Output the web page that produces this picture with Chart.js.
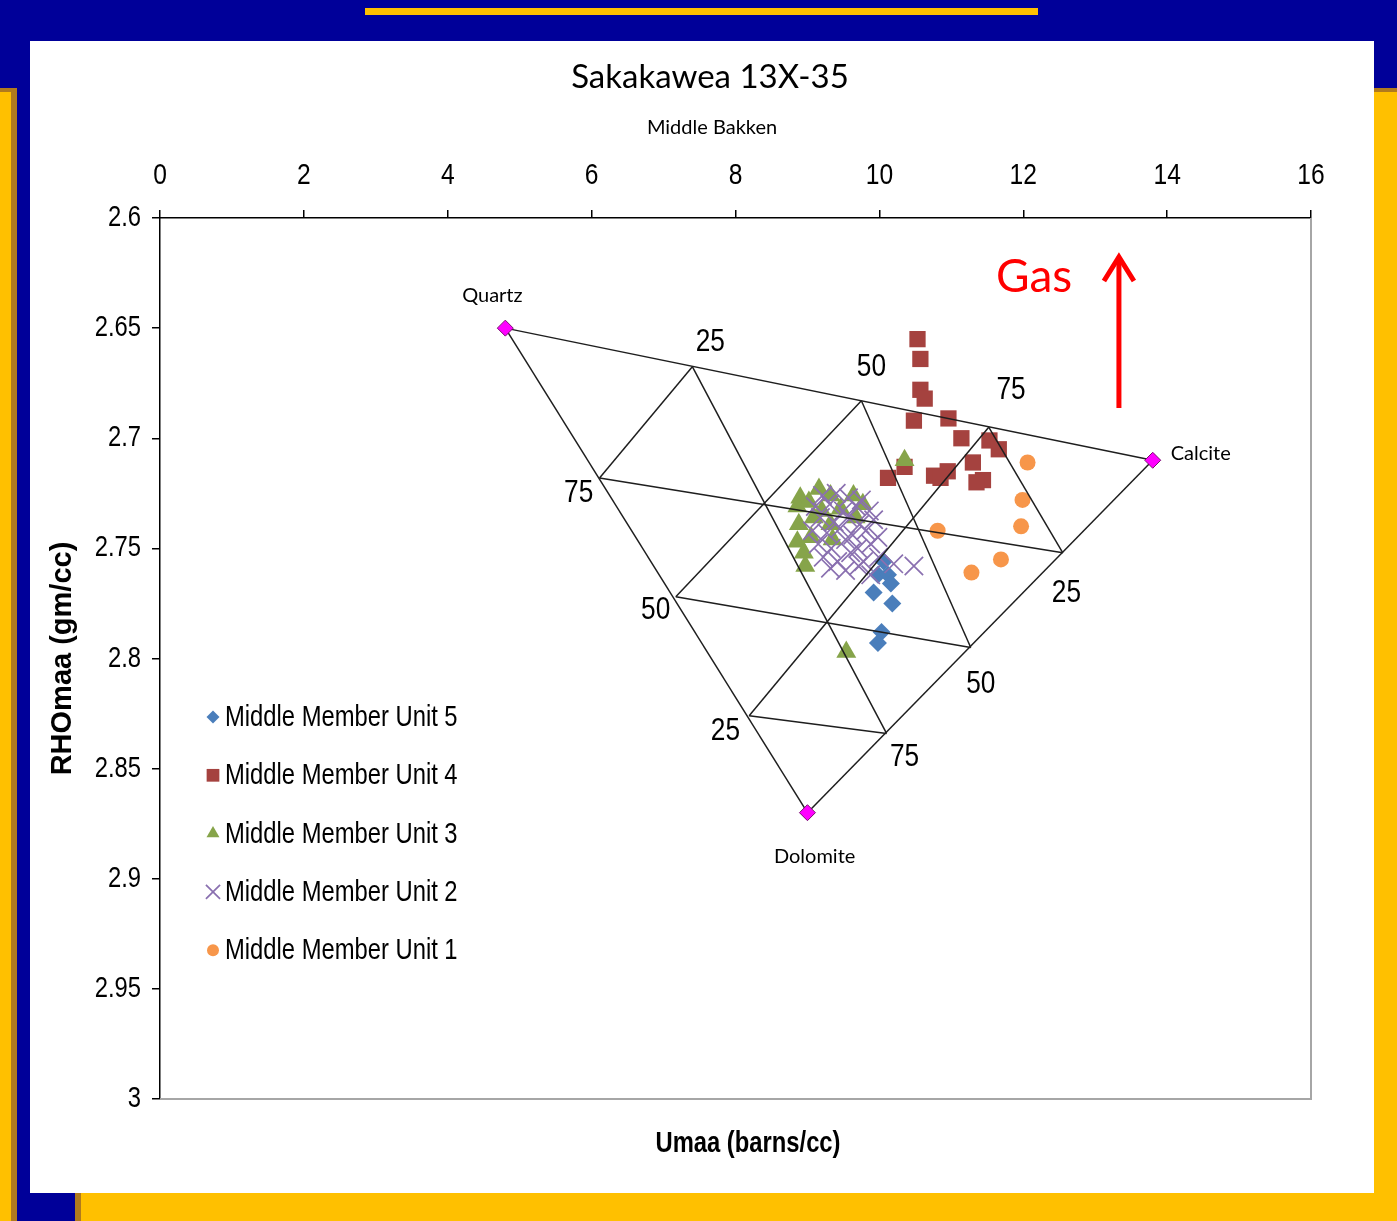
<!DOCTYPE html>
<html>
<head>
<meta charset="utf-8">
<title>Sakakawea 13X-35</title>
<script src="https://cdn.jsdelivr.net/npm/chart.js@4.4.1/dist/chart.umd.min.js"></script>
<style>
  html, body { margin: 0; padding: 0; }
  body { width: 1397px; height: 1221px; background: #000099; position: relative; overflow: hidden; }
  .gold-rule { position: absolute; left: 365px; top: 8px; width: 673px; height: 7px; background: #FFC000; }
  .band { position: absolute; background: #FFC000; box-sizing: border-box; }
  .band.left { left: 0; top: 88px; width: 17px; bottom: 0; border-top: 4px solid #B07A1E; border-right: 6px solid #B07A1E; }
  .band.right { left: 1374px; top: 88px; right: 0; bottom: 0; border-top: 4px solid #B07A1E; }
  .band.bottom { left: 75px; top: 1193px; right: 0; bottom: 0; border-left: 6px solid #B07A1E; }
  .panel { position: absolute; left: 30px; top: 41px; width: 1344px; height: 1152px; background: #fff; }
</style>
</head>
<body>
<div class="gold-rule"></div>
<div class="band left"></div>
<div class="band right"></div>
<div class="band bottom"></div>
<div class="panel"><canvas id="ternaryChart"></canvas></div>

<script>
// Middle Bakken samples, [Umaa (barns/cc), RHOmaa (gm/cc)]
const unit5 = [[10.06, 2.756], [9.98, 2.762], [10.12, 2.762], [10.16, 2.766], [9.92, 2.770],
               [10.18, 2.775], [10.03, 2.788], [9.98, 2.793]];
const unit4 = [[10.53, 2.655], [10.57, 2.664], [10.57, 2.678], [10.63, 2.682], [10.48, 2.692],
               [10.96, 2.691], [11.14, 2.700], [11.53, 2.701], [11.66, 2.705], [10.35, 2.713],
               [10.12, 2.718], [10.76, 2.717], [10.95, 2.715], [11.30, 2.711], [11.44, 2.719],
               [11.35, 2.720], [10.85, 2.718]];
const unit3 = [[10.35, 2.710], [9.16, 2.723], [8.90, 2.727], [8.86, 2.731], [9.02, 2.729],
               [9.09, 2.736], [8.86, 2.747], [8.95, 2.752], [8.97, 2.758], [9.32, 2.726],
               [9.46, 2.732], [9.32, 2.739], [9.35, 2.746], [9.64, 2.726], [9.77, 2.730],
               [9.67, 2.736], [8.88, 2.739], [9.05, 2.745], [9.20, 2.733], [9.54, 2.797]];
const unit2 = [[9.21, 2.726], [9.40, 2.725], [9.57, 2.727], [9.75, 2.728], [9.11, 2.731],
               [9.31, 2.730], [9.50, 2.733], [9.68, 2.731], [9.86, 2.733], [9.18, 2.736],
               [9.37, 2.738], [9.56, 2.736], [9.73, 2.739], [9.92, 2.737], [9.07, 2.742],
               [9.27, 2.743], [9.45, 2.741], [9.63, 2.744], [9.81, 2.742], [9.98, 2.745],
               [9.15, 2.748], [9.33, 2.750], [9.53, 2.746], [9.70, 2.750], [9.88, 2.748],
               [9.22, 2.754], [9.42, 2.756], [9.60, 2.752], [9.78, 2.756], [9.99, 2.754],
               [9.32, 2.759], [9.53, 2.760], [9.71, 2.758], [10.20, 2.757], [10.48, 2.758],
               [9.88, 2.762]];
const unit1 = [[12.06, 2.711], [11.99, 2.728], [11.97, 2.740], [10.81, 2.742], [11.69, 2.755],
               [11.28, 2.761]];

// mineral end points of the ternary
const minerals = ['Quartz', 'Calcite', 'Dolomite'];
const mineralUmaa = [4.8, 13.8, 9.0];
const mineralRho = [2.65, 2.71, 2.87];

// 25/50/75 % marks along each side
const percents = ['25', '50', '75'];
const sideQC = [[7.40, 2.6675], [9.75, 2.683], [11.52, 2.695]];
const sideQD = [[8.19, 2.826], [7.17, 2.772], [6.11, 2.718]];
const sideDC = [[12.55, 2.752], [11.27, 2.795], [10.10, 2.834]];

const xTicks = [0, 2, 4, 6, 8, 10, 12, 14, 16];
const yTicks = [2.6, 2.65, 2.7, 2.75, 2.8, 2.85, 2.9, 2.95, 3];

const SANS = "Lato, 'Open Sans', sans-serif";
const ARIAL = "'Liberation Sans', Arial, sans-serif";
const NARROW_X = 0.82;   // squeeze Liberation Sans into an Arial Narrow width

const toPoints = rows => rows.map(([x, y]) => ({x, y}));

const unitSeries = [
    {label: 'Middle Member Unit 5', rows: unit5, style: 'rectRot', color: '#4A7EBB', r: 9, key: 6.5},
    {label: 'Middle Member Unit 4', rows: unit4, style: 'rect', color: '#A5423F', r: 11.5, key: 9},
    {label: 'Middle Member Unit 3', rows: unit3, style: 'triangle', color: '#86A44A', r: 11.5, key: 7.5},
    {label: 'Middle Member Unit 2', rows: unit2, style: 'crossRot', color: '#8A70B0', r: 13, key: 10},
    {label: 'Middle Member Unit 1', rows: unit1, style: 'circle', color: '#F7964A', r: 8, key: 6}
];

const datasets = unitSeries.map((s, i) => ({
    label: s.label,
    data: toPoints(s.rows),
    pointStyle: s.style,
    pointRadius: s.r,
    pointBackgroundColor: s.style === 'crossRot' ? 'transparent' : s.color,
    pointBorderColor: s.color,
    pointBorderWidth: s.style === 'crossRot' ? 1.7 : 0,
    showLine: false,
    order: 5 - i,
    legendKey: s.key
}));

// ternary outline and its inner grid
const mineralPts = mineralUmaa.map((x, i) => ({x, y: mineralRho[i]}));
const segments = [[mineralPts[0], mineralPts[1]], [mineralPts[1], mineralPts[2]], [mineralPts[2], mineralPts[0]]];
for (let i = 0; i < 3; i++) {
    const qc = {x: sideQC[i][0], y: sideQC[i][1]};
    const qd = {x: sideQD[2 - i][0], y: sideQD[2 - i][1]};
    const dc = {x: sideDC[2 - i][0], y: sideDC[2 - i][1]};
    const dcOpp = {x: sideDC[i][0], y: sideDC[i][1]};
    segments.push([qc, qd], [qc, dc], [qd, dcOpp]);
}
segments.forEach(seg => datasets.push({
    data: seg,
    showLine: true,
    borderColor: '#1e1e1e',
    borderWidth: 1.5,
    pointRadius: 0,
    order: 0
}));

datasets.push({
    data: mineralPts,
    showLine: false,
    pointStyle: 'rectRot',
    pointRadius: 8,
    pointBackgroundColor: '#FF00FF',
    pointBorderColor: '#7A1070',
    pointBorderWidth: 1,
    order: -1
});

function narrowText(ctx, text, x, y, align, font) {
    ctx.save();
    ctx.translate(x, y);
    ctx.scale(NARROW_X, 1);
    ctx.font = font;
    ctx.textAlign = align;
    ctx.fillText(text, 0, 0);
    ctx.restore();
}

const textLayer = {
    id: 'textLayer',
    afterDraw(chart) {
        const {ctx, chartArea: a, scales: {x, y}} = chart;
        const px = v => x.getPixelForValue(v);
        const py = v => y.getPixelForValue(v);
        ctx.save();
        ctx.textAlign = 'center';
        ctx.textBaseline = 'middle';
        ctx.fillStyle = '#000';

        ctx.font = `33px ${SANS}`;
        ctx.fillText('Sakakawea 13X-35', a.left + 550, a.top - 141);
        ctx.font = `20px ${SANS}`;
        ctx.fillText('Middle Bakken', a.left + 552, a.top - 90);

        // tick labels in a narrow face
        x.ticks.forEach(t => narrowText(ctx, String(t.value), px(t.value), a.top - 42, 'center', `30px ${ARIAL}`));
        y.ticks.forEach(t => narrowText(ctx, String(+t.value.toFixed(2)), a.left - 19, py(t.value), 'right', `29px ${ARIAL}`));

        narrowText(ctx, 'Umaa (barns/cc)', a.left + 588, a.bottom + 45, 'center', `bold 29px ${ARIAL}`);

        // mineral names
        ctx.font = `20px ${SANS}`;
        ctx.fillText(minerals[0], px(4.62), py(2.6354));
        ctx.fillText(minerals[2], px(9.10), py(2.8901));
        ctx.textAlign = 'left';
        ctx.fillText(minerals[1], px(14.05), py(2.7071));

        // percent marks
        const qcText = [[7.65, 2.6563], [9.89, 2.6677], [11.83, 2.6781]];
        const qdText = [[7.86, 2.8329], [6.89, 2.778], [5.82, 2.7249]];
        const dcText = [[12.6, 2.7703], [11.41, 2.8116], [10.35, 2.8447]];
        const pctFont = `32px ${ARIAL}`;
        percents.forEach((p, i) => {
            narrowText(ctx, p, px(qcText[i][0]), py(qcText[i][1]), 'center', pctFont);
            narrowText(ctx, p, px(qdText[i][0]), py(qdText[i][1]), 'center', pctFont);
            narrowText(ctx, p, px(dcText[i][0]), py(dcText[i][1]), 'center', pctFont);
        });

        // gas effect arrow
        ctx.textAlign = 'center';
        ctx.fillStyle = '#FF0000';
        ctx.strokeStyle = '#FF0000';
        ctx.font = `46px ${SANS}`;
        ctx.fillText('Gas', px(12.15), py(2.6268));
        const ax = px(13.33), tail = py(2.6863), tip = py(2.6168);
        ctx.lineWidth = 5;
        ctx.beginPath();
        ctx.moveTo(ax, tail);
        ctx.lineTo(ax, tip + 2);
        ctx.stroke();
        ctx.beginPath();
        ctx.moveTo(ax - 15, tip + 26);
        ctx.lineTo(ax, tip + 2);
        ctx.lineTo(ax + 15, tip + 26);
        ctx.stroke();

        // legend inside the plot
        const keyX = a.left + 53, textX = a.left + 65;
        chart.data.datasets.filter(d => d.label).forEach((d, i) => {
            const ky = a.top + 499 + i * 58.3;
            ctx.fillStyle = d.pointBackgroundColor;
            ctx.strokeStyle = d.pointBorderColor;
            ctx.lineWidth = d.pointBorderWidth || 1;
            Chart.helpers.drawPoint(ctx, {
                pointStyle: d.pointStyle,
                radius: d.legendKey,
                rotation: 0,
                borderWidth: d.pointBorderWidth
            }, keyX, ky);
            ctx.fillStyle = '#000';
            narrowText(ctx, d.label, textX, ky + 1, 'left', `29px ${ARIAL}`);
        });
        ctx.restore();
    }
};

const frame = {
    id: 'frame',
    beforeDatasetsDraw(chart) {
        const {ctx, chartArea: a} = chart;
        ctx.save();
        ctx.strokeStyle = '#A6A6A6';
        ctx.lineWidth = 2;
        ctx.beginPath();
        ctx.moveTo(a.left, a.bottom);
        ctx.lineTo(a.right, a.bottom);
        ctx.lineTo(a.right, a.top);
        ctx.stroke();
        ctx.restore();
    }
};

new Chart(document.getElementById('ternaryChart'), {
    type: 'scatter',
    data: {datasets},
    options: {
        responsive: true,
        maintainAspectRatio: false,
        animation: false,
        layout: {padding: {left: 0, top: 100, right: 63, bottom: 94}},
        plugins: {
            legend: {display: false},
            tooltip: {enabled: false}
        },
        scales: {
            x: {
                type: 'linear',
                position: 'top',
                min: xTicks[0],
                max: xTicks[xTicks.length - 1],
                afterBuildTicks: s => { s.ticks = xTicks.map(value => ({value})); },
                afterFit: s => { s.height = 77; },
                ticks: {display: false},
                grid: {drawOnChartArea: false, tickLength: 8, color: '#000', lineWidth: 1.5},
                border: {color: '#000', width: 1.5}
            },
            y: {
                type: 'linear',
                position: 'left',
                reverse: true,
                min: yTicks[0],
                max: yTicks[yTicks.length - 1],
                afterBuildTicks: s => { s.ticks = yTicks.map(value => ({value})); },
                afterFit: s => { s.width = 130; },
                ticks: {display: false},
                grid: {drawOnChartArea: false, tickLength: 8, color: '#000', lineWidth: 1.5},
                border: {color: '#000', width: 1.5},
                title: {
                    display: true,
                    text: 'RHOmaa (gm/cc)',
                    color: '#000',
                    padding: {top: 16, bottom: 0},
                    font: {family: ARIAL, size: 29, weight: 'bold'}
                }
            }
        }
    },
    plugins: [frame, textLayer]
});
</script>
</body>
</html>
